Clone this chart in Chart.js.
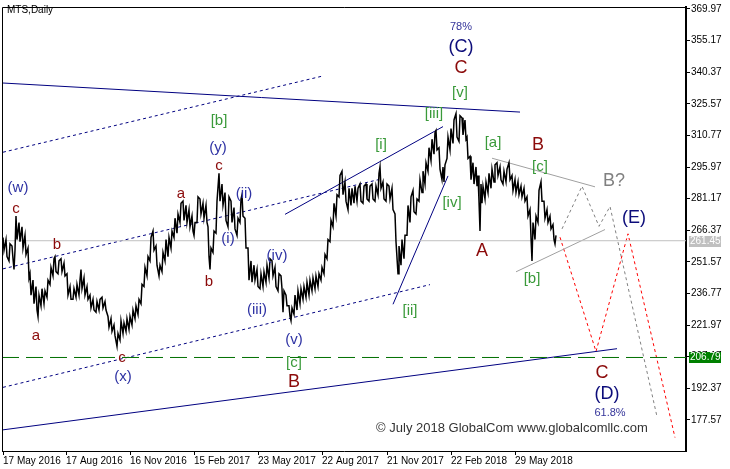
<!DOCTYPE html>
<html lang="en">
<head>
<meta charset="UTF-8">
<title>MTS, Daily</title>
<script src="https://cdn.jsdelivr.net/npm/chart.js"></script>
<style>
  body { margin: 0; background: #fff; }
  canvas { display: block; }
</style>
</head>
<body>
<canvas id="wave" width="730" height="469"></canvas>
<script>
// bar numbers count from the left edge of the chart, one daily bar per pixel
const dateIdx = [3, 66, 130, 194, 258, 322, 387, 451, 515];
const dateLabels = ['17 May 2016', '17 Aug 2016', '16 Nov 2016', '15 Feb 2017', '23 May 2017',
  '22 Aug 2017', '21 Nov 2017', '22 Feb 2018', '29 May 2018'];
const priceTicks = [177.57, 192.37, 207.17, 221.97, 236.77, 251.57, 266.37, 281.17,
  295.97, 310.77, 325.57, 340.37, 355.17, 369.97];

const barIdx = [3,6,9,12,14,16,19,22,25,28, 30,33,36,38,41,44,47,50,53,55,
  58,61,64,67,70,73,76,79,81,84, 87,90,93,96,99,102,105,108,111,114,
  117,120,123,126,129,132,135,138,141,144, 147,150,153,156,159,162,165,168,171,174,
  177,180,183,186,189,192,194,197,200,203, 206,208,210,213,216,219,222,225,228,231,
  234,237,240,242,245,248,251,254,257,260, 263,266,269,272,275,278,281,283,286,289,
  291,294,297,300,303,306,309,312,315,318, 321,324,327,330,333,336,339,342,345,348,
  351,354,357,360,363,366,369,372,375,378, 380,383,386,389,392,395,398,401,404,407,
  410,413,416,419,422,425,428,431,434,436, 439,442,444,447,450,453,456,459,462,465,
  467,470,473,476,478,480,482,485,488,491, 494,497,500,503,506,509,512,515,518,521,
  524,527,530,532,535,538,541,544,547,550, 553,555];
const barHigh = [263,262,260,259,257,273,270,268,264,258, 246,243,240,236,239,238,243,249,253,254,
  252,253,251,246,240,239,241,243,248,244, 240,236,234,233,234,235,233,226,225,222,
  218,224,223,225,226,229,231,234,241,249, 254,263,266,259,250,256,262,263,266,272,
  274,279,280,278,276,273,270,282,281,279, 278,268,258,266,280,293,288,284,282,280,
  277,272,281,283,272,258,252,250,248,246, 247,250,253,252,249,246,245,238,236,231,
  230,236,238,239,240,242,243,244,245,246, 249,255,262,271,279,283,292,294,289,286,
  286,287,286,288,287,288,287,288,287,293, 296,289,288,287,286,274,259,262,264,278,
  282,285,281,290,294,298,305,309,312,313, 305,296,297,310,314,318,321,320,319,318,
  310,301,298,296,292,288,287,289,293,295, 297,298,296,294,295,298,292,290,289,287,
  286,282,276,270,273,285,289,280,276,273, 269,264];
const barLow = [257,254,252,253,248,262,261,258,255,244, 236,232,229,226,231,232,235,241,245,247,
  246,247,245,236,234,234,235,236,239,236, 234,230,229,228,229,230,229,221,219,217,
  212,215,218,219,220,222,225,227,232,240, 245,252,257,250,245,247,252,254,258,263,
  265,270,271,270,268,266,264,270,274,272, 270,254,248,256,265,280,278,271,268,270,
  267,264,270,273,258,243,242,243,240,239, 240,242,244,245,240,238,239,228,231,226,
  224,227,229,232,234,235,236,238,239,240, 243,246,253,261,268,273,282,283,280,276,
  278,279,280,280,279,281,280,281,280,283, 286,281,280,281,276,261,246,250,253,264,
  270,275,274,280,284,288,294,299,302,304, 295,290,289,300,304,307,310,308,311,309,
  300,290,288,287,280,266,279,281,284,286, 289,292,290,288,289,290,285,284,283,282,
  280,273,263,252,262,270,280,272,270,267, 262,260];

const lastPrice = 261.45;
const supportPrice = 206.79;

// trend lines as [bar, price] pairs
const topLine = [[3, 335.3], [520, 321.7]];
const bottomLine = [[3, 172.9], [617, 210.9]];
const upperDots = [[3, 302.9], [322, 338.5]];
const middleDots = [[3, 248.3], [378, 290.0]];
const lowerDots = [[3, 192.8], [430, 240.9]];
const wedgeTop = [[285, 273.8], [443, 314.9]];
const wedgeBottom = [[393, 231.7], [448, 291.8]];
const triangleTop = [[492, 300.1], [595, 286.7]];
const triangleBottom = [[516, 246.9], [605, 266.7]];
const mainPath = [[560, 263.1], [596, 209.6], [628, 264.7], [675, 169.3]];
const altPath = [[562, 267.0], [582, 287.0], [599, 268.2], [610, 277.5], [657, 179.1]];

// wave marks: text, bar, price, degree
const waveLabels = [
  ['78%', 461, 361.5, 'pct'], ['(C)', 461, 352.1, 'primary'], ['C', 461, 342.2, 'capital'],
  ['[v]', 460, 330.5, 'minute'], ['[iii]', 434, 321.0, 'minute'], ['[i]', 381, 306.3, 'minute'],
  ['[iv]', 452, 279.3, 'minute'], ['[ii]', 410, 228.4, 'minute'], ['[a]', 493, 307.1, 'minute'],
  ['B', 538, 306.3, 'capital'], ['[c]', 540, 296.0, 'minute'], ['B?', 614, 289.4, 'maybe'],
  ['(E)', 634, 271.9, 'primary'], ['A', 482, 256.7, 'capital'], ['[b]', 532, 243.6, 'minute'],
  ['C', 602, 199.5, 'capital'], ['(D)', 607, 189.9, 'primary'], ['61.8%', 610, 180.9, 'pct'],
  ['(w)', 18, 286.3, 'minor'], ['c', 16, 276.6, 'small'], ['b', 57, 259.3, 'small'],
  ['a', 36, 216.9, 'small'], ['c', 122, 206.8, 'small'], ['(x)', 123, 197.6, 'minor'],
  ['a', 181, 283.6, 'small'], ['[b]', 219, 317.4, 'minute'], ['(y)', 218, 304.8, 'minor'],
  ['c', 219, 296.3, 'small'], ['(ii)', 244, 283.6, 'minor'], ['(i)', 228, 262.4, 'minor'],
  ['b', 209, 242.0, 'small'], ['(iv)', 277, 254.3, 'minor'], ['(iii)', 257, 229.2, 'minor'],
  ['(v)', 294, 214.9, 'minor'], ['[c]', 294, 204.3, 'minute'], ['B', 294, 195.3, 'capital']
];

const FONT = "'Liberation Sans', Arial, sans-serif";
const degreeStyle = {
  pct: { color: '#34349a', size: 11 },
  primary: { color: '#0c0c7a', size: 18 },
  capital: { color: '#8b0a0a', size: 18 },
  minute: { color: '#3a9a3a', size: 15 },
  minor: { color: '#2f33a4', size: 15 },
  small: { color: '#8b0a0a', size: 15 },
  maybe: { color: '#808080', size: 18 }
};

function pts(pairs) {
  return pairs.map(p => ({ x: p[0], y: p[1] }));
}

function lineSet(pairs, color, dash, width) {
  return {
    type: 'line',
    data: pts(pairs),
    borderColor: color,
    borderWidth: width || 1,
    borderDash: dash || [],
    pointRadius: 0,
    fill: false,
    order: 2
  };
}

// each bar is stroked low-to-high or high-to-low, following where the next bar goes
const priceTrace = [];
barIdx.forEach((b, i) => {
  const j = Math.min(i + 1, barIdx.length - 1);
  const rising = barHigh[j] + barLow[j] >= barHigh[i] + barLow[i];
  const ends = rising ? [barLow[i], barHigh[i]] : [barHigh[i], barLow[i]];
  priceTrace.push({ x: b, y: ends[0] }, { x: b + 1, y: ends[1] });
});

const wavePlugin = {
  id: 'waves',
  afterDatasetsDraw(chart) {
    const { ctx, scales: { x, y } } = chart;
    ctx.save();
    ctx.textAlign = 'center';
    ctx.textBaseline = 'middle';
    waveLabels.forEach(([text, bar, price, deg]) => {
      const st = degreeStyle[deg];
      ctx.font = st.size + 'px ' + FONT;
      ctx.fillStyle = st.color;
      ctx.fillText(text, x.getPixelForValue(bar), y.getPixelForValue(price));
    });
    ctx.font = '13px ' + FONT;
    ctx.fillStyle = '#333';
    ctx.fillText('\u00a9 July 2018 GlobalCom www.globalcomllc.com', x.getPixelForValue(512), y.getPixelForValue(173.4));
    ctx.textAlign = 'left';
    ctx.font = '10px ' + FONT;
    ctx.fillStyle = '#000';
    ctx.fillText('MTS,Daily', 7, 10);
    ctx.restore();
  },
  afterDraw(chart) {
    const { ctx, chartArea: a, scales: { y } } = chart;
    ctx.save();
    ctx.strokeStyle = '#000';
    ctx.lineWidth = 1;
    ctx.beginPath();
    ctx.moveTo(a.left + 0.5, a.bottom);
    ctx.lineTo(a.left + 0.5, a.top + 0.5);
    ctx.lineTo(a.right, a.top + 0.5);
    ctx.stroke();
    // price boxes on the axis
    const boxes = [[lastPrice, '#c0c0c0'], [supportPrice, '#008000']];
    ctx.font = '10px ' + FONT;
    ctx.textBaseline = 'middle';
    ctx.textAlign = 'left';
    boxes.forEach(([v, bg]) => {
      const py = Math.round(y.getPixelForValue(v));
      ctx.fillStyle = bg;
      ctx.fillRect(a.right + 3, py - 5, 32, 11);
      ctx.fillStyle = '#fff';
      ctx.fillText(v.toFixed(2), a.right + 4, py + 0.5);
    });
    ctx.restore();
  }
};

new Chart(document.getElementById('wave'), {
  type: 'line',
  data: {
    datasets: [
      {
        data: priceTrace,
        borderColor: '#000',
        borderWidth: 1.5,
        pointRadius: 0,
        fill: false,
        order: 1
      },
      lineSet([[2, lastPrice], [686, lastPrice]], '#c0c0c0'),
      lineSet([[2, supportPrice], [686, supportPrice]], '#007000', [17, 7]),
      lineSet(topLine, '#000080'),
      lineSet(bottomLine, '#000080'),
      lineSet(upperDots, '#000080', [3, 3]),
      lineSet(middleDots, '#000080', [3, 3]),
      lineSet(lowerDots, '#000080', [3, 3]),
      lineSet(wedgeTop, '#000080'),
      lineSet(wedgeBottom, '#000080'),
      lineSet(triangleTop, '#a0a0a0'),
      lineSet(triangleBottom, '#a0a0a0'),
      lineSet(mainPath, '#ff0000', [3, 3]),
      lineSet(altPath, '#808080', [3, 3])
    ]
  },
  options: {
    responsive: false,
    animation: false,
    layout: { padding: { left: 2, top: 2, right: 0, bottom: 0 } },
    plugins: { legend: { display: false }, tooltip: { enabled: false } },
    scales: {
      x: {
        type: 'linear',
        min: 2,
        max: 686,
        offset: false,
        afterBuildTicks: s => { s.ticks = dateIdx.map(v => ({ value: v })); },
        afterFit: s => { s.height = 18; },
        grid: { drawOnChartArea: false, tickLength: 4, color: '#000' },
        border: { color: '#000', width: 1 },
        ticks: {
          align: 'start',
          maxRotation: 0,
          autoSkip: false,
          padding: 0,
          color: '#000',
          font: { family: FONT, size: 10 },
          callback: v => dateLabels[dateIdx.indexOf(v)] || ''
        }
      },
      y: {
        position: 'right',
        min: 163.0,
        max: 370.9,
        afterBuildTicks: s => { s.ticks = priceTicks.map(v => ({ value: v })); },
        afterFit: s => { s.width = 44; },
        grid: { drawOnChartArea: false, tickLength: 4, color: '#000' },
        border: { color: '#000', width: 2 },
        ticks: {
          padding: 1,
          color: '#000',
          font: { family: FONT, size: 10 },
          callback: v => v.toFixed(2)
        }
      }
    }
  },
  plugins: [wavePlugin]
});
</script>
</body>
</html>
